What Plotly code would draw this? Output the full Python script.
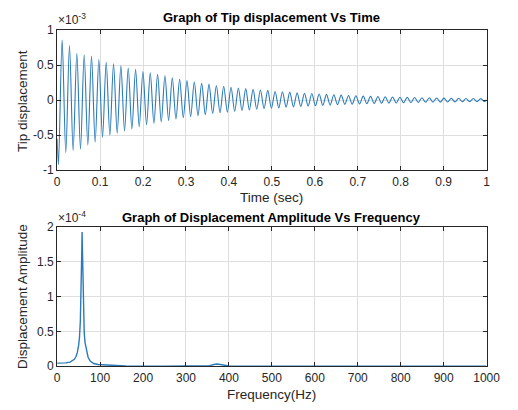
import plotly.graph_objects as go

W, H = 518, 410

# ---- Top: tip displacement vs time (values in units of 1e-3) ----
time_s = [0.0, 0.003, 0.0116, 0.0201, 0.0287, 0.0372, 0.0458, 0.0543, 0.0629, 0.0714, 0.0800,
          0.0885, 0.0971, 0.1056, 0.1142, 0.1227, 0.1313, 0.1398, 0.1484, 0.1569, 0.1655,
          0.1740, 0.1826, 0.1911, 0.1997, 0.2082, 0.2168, 0.2253, 0.2339, 0.2424, 0.2510,
          0.2595, 0.2681, 0.2766, 0.2852, 0.2937, 0.3023, 0.3108, 0.3194, 0.3279, 0.3365,
          0.3450, 0.3536, 0.3621, 0.3707, 0.3792, 0.3878, 0.3963, 0.4049, 0.4134, 0.4220,
          0.4305, 0.4391, 0.4476, 0.4562, 0.4647, 0.4733, 0.4818, 0.4904, 0.4989, 0.5075,
          0.5160, 0.5246, 0.5331, 0.5417, 0.5502, 0.5588, 0.5673, 0.5759, 0.5844, 0.5930,
          0.6015, 0.6101, 0.6186, 0.6272, 0.6357, 0.6443, 0.6528, 0.6614, 0.6699, 0.6785,
          0.6870, 0.6956, 0.7041, 0.7127, 0.7212, 0.7298, 0.7383, 0.7469, 0.7554, 0.7640,
          0.7725, 0.7811, 0.7896, 0.7982, 0.8067, 0.8153, 0.8238, 0.8324, 0.8409, 0.8495,
          0.8580, 0.8666, 0.8751, 0.8837, 0.8922, 0.9008, 0.9093, 0.9179, 0.9264, 0.9350,
          0.9435, 0.9521, 0.9606, 0.9692, 0.9777, 0.9863, 0.9948, 1.0]
tip_disp_e3 = [-0.55, -0.92, 0.86, -0.75, 0.78, -0.72, 0.67, -0.70, 0.65, -0.64, 0.63,
               -0.60, 0.58, -0.53, 0.54, -0.50, 0.52, -0.47, 0.49, -0.44, 0.46,
               -0.41, 0.44, -0.38, 0.41, -0.35, 0.39, -0.33, 0.37, -0.31, 0.35,
               -0.29, 0.32, -0.27, 0.30, -0.25, 0.28, -0.235, 0.26, -0.22, 0.24,
               -0.205, 0.23, -0.19, 0.21, -0.18, 0.20, -0.17, 0.185, -0.16, 0.175,
               -0.15, 0.165, -0.14, 0.155, -0.13, 0.145, -0.12, 0.14, -0.115, 0.125,
               -0.11, 0.12, -0.10, 0.115, -0.095, 0.105, -0.09, 0.10, -0.085, 0.095,
               -0.08, 0.088, -0.075, 0.083, -0.07, 0.078, -0.065, 0.073, -0.06, 0.068,
               -0.057, 0.063, -0.053, 0.058, -0.05, 0.055, -0.047, 0.052, -0.044, 0.049,
               -0.041, 0.046, -0.039, 0.043, -0.036, 0.041, -0.034, 0.039, -0.032, 0.036,
               -0.03, 0.034, -0.028, 0.032, -0.027, 0.030, -0.025, 0.028, -0.024, 0.027,
               -0.022, 0.025, -0.021, 0.024, -0.02, 0.022, -0.019, 0.005]

# ---- Bottom: displacement amplitude vs frequency (values in units of 1e-4) ----
freq_hz = [0, 10, 20, 30, 35, 40, 44, 47, 50, 52, 54, 55, 56, 57, 58, 59, 60, 61, 62, 63,
           65, 68, 72, 77, 85, 95, 105, 115, 130, 160, 250, 340, 355, 365, 372, 380, 390,
           400, 500, 700, 1000]
amp_e4 = [0.045, 0.045, 0.05, 0.06, 0.075, 0.1, 0.14, 0.2, 0.3, 0.42, 0.65, 0.85, 1.15,
          1.55, 1.93, 1.6, 1.15, 0.82, 0.62, 0.48, 0.34, 0.22, 0.13, 0.075, 0.04, 0.025,
          0.022, 0.016, 0.009, 0.005, 0.003, 0.004, 0.01, 0.025, 0.032, 0.025, 0.01, 0.004,
          0.002, 0.002, 0.001]

time_ticks = [0, 0.1, 0.2, 0.3, 0.4, 0.5, 0.6, 0.7, 0.8, 0.9, 1]
time_labels = ["0", "0.1", "0.2", "0.3", "0.4", "0.5", "0.6", "0.7", "0.8", "0.9", "1"]
disp_ticks = [-1, -0.5, 0, 0.5, 1]
disp_labels = ["-1", "-0.5", "0", "0.5", "1"]
freq_ticks = [0, 100, 200, 300, 400, 500, 600, 700, 800, 900, 1000]
amp_ticks = [0, 0.5, 1, 1.5, 2]
amp_labels = ["0", "0.5", "1", "1.5", "2"]

LINE = "#2b7bba"
AX = "#262626"
GRID = "#dedede"
FONT = "Liberation Sans, Arial, sans-serif"

fig = go.Figure()
fig.add_trace(go.Scatter(x=time_s, y=tip_disp_e3, mode="lines",
                         line=dict(color=LINE, width=1.1, shape="spline", smoothing=0.9),
                         xaxis="x", yaxis="y", showlegend=False))
fig.add_trace(go.Scatter(x=freq_hz, y=amp_e4, mode="lines", line=dict(color=LINE, width=1.4),
                         xaxis="x2", yaxis="y2", showlegend=False))

xd = [56 / W, 500 / W]
def ydom(top, bot):
    return [1 - bot / H, 1 - top / H]

axcommon = dict(showline=True, linecolor=AX, linewidth=1, mirror="ticks", ticks="inside",
                ticklen=4, tickcolor=AX, showgrid=True, gridcolor=GRID, gridwidth=1,
                zeroline=False, tickfont=dict(family=FONT, size=12, color=AX))

fig.update_layout(
    width=W, height=H, margin=dict(l=0, r=0, t=0, b=0),
    paper_bgcolor="white", plot_bgcolor="white",
    xaxis=dict(domain=xd, range=[0, 1], tickvals=time_ticks, ticktext=time_labels, anchor="y", **axcommon),
    yaxis=dict(domain=ydom(24, 169), range=[-1, 1], tickvals=disp_ticks, ticktext=disp_labels, anchor="x", **axcommon),
    xaxis2=dict(domain=xd, range=[0, 1000], tickvals=freq_ticks, anchor="y2", **axcommon),
    yaxis2=dict(domain=ydom(228, 372), range=[0, 2], tickvals=amp_ticks, ticktext=amp_labels, anchor="x2", **axcommon),
)

def ann(text, px, py, size=11, bold=False, angle=0, xanchor="center", yanchor="middle"):
    fig.add_annotation(text=f"<b>{text}</b>" if bold else text, x=px / W, y=1 - py / H,
                       xref="paper", yref="paper", showarrow=False, textangle=angle,
                       xanchor=xanchor, yanchor=yanchor,
                       font=dict(family=FONT, size=size, color="#000000" if bold else AX))

ann("Graph of Tip displacement Vs Time", 278, 11, size=13, bold=True)
ann("Graph of Displacement Amplitude Vs Frequency", 278, 218, size=13, bold=True)
ann("Time (sec)", 278, 197, size=13.5)
ann("Frequency(Hz)", 278, 401, size=13.5)
ann("Tip displacement", 20, 97, size=13.5, angle=-90)
ann("Displacement Amplitude", 20, 300, size=13.5, angle=-90)
ann("×10<sup>-3</sup>", 55, 12, size=12, xanchor="left")
ann("×10<sup>-4</sup>", 55, 217, size=12, xanchor="left")

fig.write_html("out.html")
